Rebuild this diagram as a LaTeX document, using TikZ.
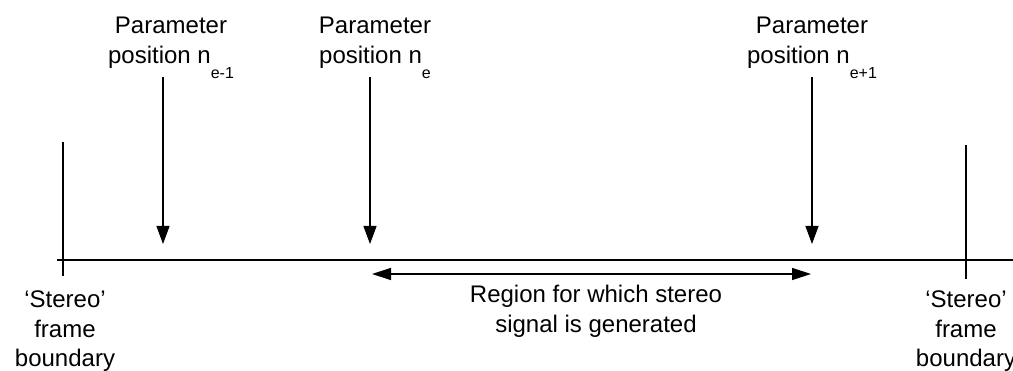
\documentclass[tikz,border=0pt]{standalone}
\usepackage{fontspec}
\setmainfont{Liberation Sans}
\usetikzlibrary{arrows.meta}
\newcommand{\sbx}[1]{\raisebox{-15pt}{\fontsize{16}{16}\selectfont #1}}
\begin{document}
\begin{tikzpicture}[x=1pt,y=1pt,
  lbl/.style={align=center,anchor=north,inner sep=0pt,font=\fontsize{24}{29.5}\selectfont},
  ln/.style={line width=1.2pt},
  arr/.style={line width=1.2pt,-{Triangle[length=18pt,width=13pt]}},
  darr/.style={line width=1.2pt,{Triangle[length=19pt,width=12pt]}-{Triangle[length=19pt,width=12pt]}}]
\useasboundingbox (0,0) rectangle (1013,370);
% axis
\coordinate (axL) at (57,110);
\coordinate (axR) at (1013,110);
\draw[ln] (axL) -- (axR);
% frame boundaries
\coordinate (bLt) at (63,228);
\coordinate (bLb) at (63,94);
\coordinate (bRt) at (966,225);
\coordinate (bRb) at (966,91);
\draw[ln] (bLt) -- (bLb);
\draw[ln] (bRt) -- (bRb);
% parameter positions
\node[lbl] (p1) at (171,353) {Parameter\\position n\sbx{e-1}};
\node[lbl] (p2) at (375,353) {Parameter\\position n\sbx{e}};
\node[lbl] (p3) at (812,353) {Parameter\\position n\sbx{e+1}};
\coordinate (a1s) at (163,293); \coordinate (a1e) at (163,126);
\coordinate (a2s) at (370,293); \coordinate (a2e) at (370,126);
\coordinate (a3s) at (812,293); \coordinate (a3e) at (812,126);
\draw[arr] (a1s) -- (a1e);
\draw[arr] (a2s) -- (a2e);
\draw[arr] (a3s) -- (a3e);
% region arrow
\coordinate (rL) at (372,96);
\coordinate (rR) at (811,96);
\draw[darr] (rL) -- (rR);
\node[lbl] (reg) at (596,85) {Region for which stereo\\signal is generated};
% boundary labels
\node[lbl] (sL) at (65,79) {‘Stereo’\\frame\\boundary};
\node[lbl] (sR) at (966,79) {‘Stereo’\\frame\\boundary};
\end{tikzpicture}
\end{document}
